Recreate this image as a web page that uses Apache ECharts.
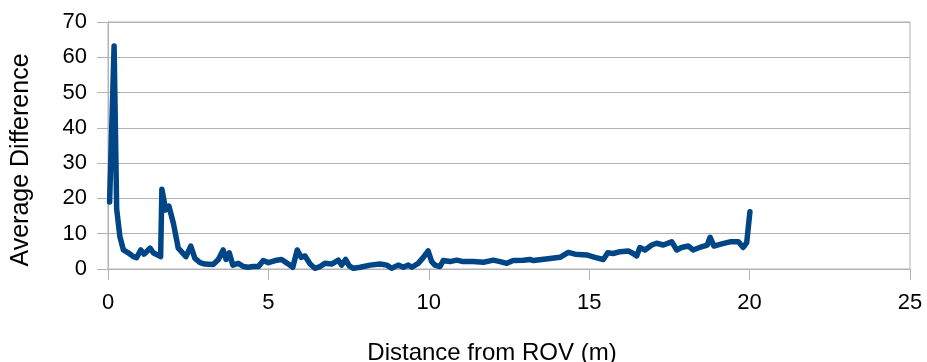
<!DOCTYPE html>
<html>
<head>
<meta charset="utf-8">
<script src="https://cdn.jsdelivr.net/npm/echarts@6/dist/echarts.min.js"></script>
<style>
  html, body { margin: 0; padding: 0; background: #fff; }
  #chart { width: 927px; height: 362px; }
</style>
</head>
<body>
<div id="chart"></div>
<script>
// Distance from the ROV (m) and the average difference measured at that distance
const distance = [
  0.05, 0.19, 0.27, 0.37, 0.48, 0.63, 0.79, 0.89, 1.02, 1.12, 1.31, 1.41, 1.64, 1.68, 1.80, 1.90,
  2.04, 2.19, 2.43, 2.58, 2.71, 2.87, 3.02, 3.28, 3.44, 3.59, 3.68, 3.78, 3.89, 4.06, 4.22, 4.37,
  4.53, 4.69, 4.84, 5.00, 5.21, 5.41, 5.59, 5.76, 5.90, 6.02, 6.14, 6.30, 6.45, 6.61, 6.76, 6.97,
  7.18, 7.28, 7.41, 7.52, 7.65, 7.86, 8.17, 8.48, 8.69, 8.84, 9.05, 9.21, 9.36, 9.47, 9.67, 9.83,
  9.98, 10.09, 10.19, 10.35, 10.45, 10.66, 10.87, 11.07, 11.39, 11.70, 11.91, 12.01, 12.22, 12.43,
  12.63, 12.95, 13.15, 13.26, 13.52, 13.78, 14.09, 14.35, 14.56, 14.92, 15.18, 15.44, 15.58, 15.75,
  15.96, 16.22, 16.37, 16.48, 16.58, 16.74, 16.95, 17.10, 17.31, 17.57, 17.73, 17.88, 18.09, 18.24,
  18.50, 18.68, 18.77, 18.89, 19.13, 19.39, 19.65, 19.80, 19.91, 20.01
];
const avgDifference = [
  19, 63.2, 17, 9.2, 5.4, 4.6, 3.5, 3.2, 5.4, 4.2, 5.9, 4.6, 3.5, 22.6, 16.7, 17.8,
  12.9, 5.9, 3.5, 6.5, 3.0, 1.8, 1.4, 1.3, 2.7, 5.4, 2.7, 4.6, 1.1, 1.6, 0.7, 0.5,
  0.7, 0.7, 2.4, 1.8, 2.4, 2.7, 1.6, 0.5, 5.4, 3.3, 3.7, 1.4, 0.2, 0.7, 1.6, 1.4,
  2.5, 1.1, 2.7, 0.9, 0.2, 0.5, 1.1, 1.4, 1.1, 0.2, 1.1, 0.5, 1.1, 0.5, 1.6, 3.3,
  5.1, 2.1, 1.1, 0.7, 2.4, 2.1, 2.5, 2.1, 2.1, 1.9, 2.3, 2.5, 2.1, 1.6,
  2.4, 2.5, 2.7, 2.4, 2.7, 3.0, 3.3, 4.7, 4.2, 4.0, 3.3, 2.7, 4.6, 4.4,
  4.9, 5.1, 4.4, 3.7, 6.1, 5.4, 6.8, 7.3, 6.8, 7.7, 5.4, 6.1, 6.5, 5.4,
  6.3, 6.8, 9.0, 6.5, 7.1, 7.7, 7.7, 6.1, 7.5, 16.2
];

const xTitle = 'Distance from ROV (m)';
const yTitle = 'Average Difference';

const gridColor = '#b3b3b3';
const textFont = "'Liberation Sans', Arial, sans-serif";

const chart = echarts.init(document.getElementById('chart'));
chart.setOption({
  animation: false,
  grid: {
    left: 108, right: 17, top: 22, bottom: 93,
    outerBoundsMode: 'none',
    containLabel: false,
    show: true, borderColor: gridColor, borderWidth: 1
  },
  xAxis: {
    type: 'value', min: 0, max: 25, interval: 5,
    name: xTitle, nameLocation: 'middle', nameGap: 72,
    nameTextStyle: { fontFamily: textFont, fontSize: 24, color: '#000', padding: [0, 34, 0, 0] },
    axisLine: { show: true, lineStyle: { color: gridColor, width: 1 } },
    axisTick: { show: true, inside: false, length: 11, lineStyle: { color: gridColor } },
    axisLabel: { fontFamily: textFont, fontSize: 22, color: '#000', margin: 23 },
    splitLine: { show: false }
  },
  yAxis: {
    type: 'value', min: 0, max: 70, interval: 10,
    name: yTitle, nameLocation: 'middle', nameGap: 74,
    nameTextStyle: { fontFamily: textFont, fontSize: 25, color: '#000', padding: [0, 29, 0, 0] },
    axisLine: { show: true, lineStyle: { color: gridColor, width: 1 } },
    axisTick: { show: true, inside: false, length: 11, lineStyle: { color: gridColor } },
    axisLabel: { fontFamily: textFont, fontSize: 22, color: '#000', margin: 21 },
    splitLine: { show: true, lineStyle: { color: gridColor, width: 1 } }
  },
  series: [{
    type: 'line',
    data: distance.map((d, i) => [d, avgDifference[i]]),
    showSymbol: false,
    lineStyle: { color: '#004586', width: 5.5, join: 'round', cap: 'round' },
    z: 3
  }]
});
</script>
</body>
</html>
